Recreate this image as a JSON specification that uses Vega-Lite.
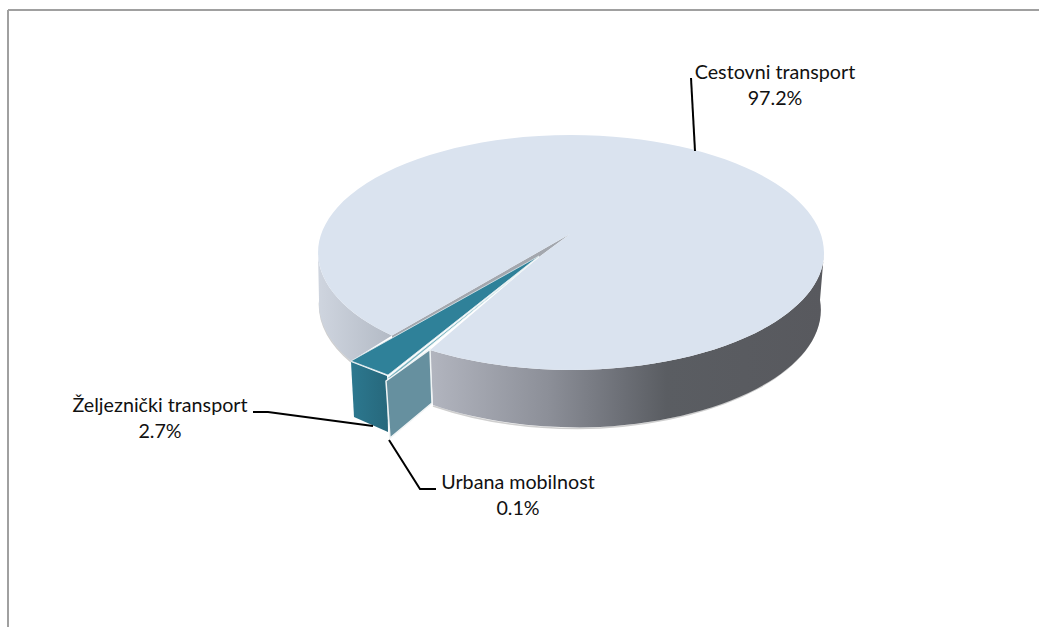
{
  "$schema": "https://vega.github.io/schema/vega-lite/v6.json",
  "width": 1031,
  "height": 617,
  "padding": {"left": 8, "top": 10, "right": 0, "bottom": 0},
  "autosize": "none",
  "background": "white",
  "config": {"view": {"stroke": null}},
  "datasets": {
    "udjeli": [
      {"sektor": "Cestovni transport", "udio": 97.2},
      {"sektor": "Željeznički transport", "udio": 2.7},
      {"sektor": "Urbana mobilnost", "udio": 0.1}
    ]
  },
  "data": {"name": "udjeli"},
  "transform": [
    {"calculate": "datum.sektor + '\\n' + format(datum.udio, '.1f') + '%'", "as": "oznaka"}
  ],
  "resolve": {"scale": {"shape": "independent", "fill": "independent", "stroke": "independent"}},
  "layer": [
    {"mark": {"type": "rule", "color": "#a0a0a0", "strokeWidth": 2}, "encoding": {"y": {"value": 0}}},
    {"mark": {"type": "rule", "color": "#a0a0a0", "strokeWidth": 2}, "encoding": {"x": {"value": 0}}},
    {
      "transform": [{"filter": "datum.sektor == 'Cestovni transport'"}],
      "mark": {"type": "point", "size": 4, "opacity": 1, "filled": false, "fill": null, "stroke": "#cfcfcf", "strokeWidth": 1.5,
        "shape": "M296 -10A250 118 0 0 1 76.5 109.5A250 118 0 0 1 -90.5 87.5M-204 -16A250 118 0 0 0 -172.5 43.5"}
    },
    {
      "transform": [{"filter": "datum.sektor == 'Cestovni transport'"}],
      "mark": {"type": "point", "size": 4, "opacity": 1, "filled": true,
        "shape": "M-205.5 -66A253 117.5 0 0 0 -131.5 17L-172.5 42.5A250 118 0 0 1 -204.5 -18.5Z",
        "fill": {"gradient": "linear", "x1": 0, "y1": 0, "x2": 1, "y2": 0, "stops": [
          {"offset": 0, "color": "#cfd5df"}, {"offset": 1, "color": "#b3bac5"}]}}
    },
    {
      "transform": [{"filter": "datum.sektor == 'Cestovni transport'"}],
      "mark": {"type": "point", "size": 4, "opacity": 1, "filled": true,
        "shape": "M-93.5 31.6A253 117.5 0 0 0 47.5 51.5A253 117.5 0 0 0 300.5 -66L296.5 -18.5A250 118 0 0 1 76.5 108.5A250 118 0 0 1 -90.5 86.5Z",
        "fill": {"gradient": "linear", "x1": 0, "y1": 0, "x2": 1, "y2": 0, "stops": [
          {"offset": 0, "color": "#b2b5bf"}, {"offset": 0.3, "color": "#8c8f98"}, {"offset": 0.5, "color": "#6a6d74"},
          {"offset": 0.6, "color": "#5a5d62"}, {"offset": 1, "color": "#58595e"}]}}
    },
    {
      "transform": [{"filter": "datum.sektor == 'Cestovni transport'"}],
      "mark": {"type": "point", "size": 4, "opacity": 1, "filled": true, "fill": "#a3a7ae",
        "shape": "M-131.5 17L46.5 -84.5L15.5 -61.5L-131.5 19.5Z"}
    },
    {
      "mark": {"type": "point", "size": 4, "opacity": 1, "filled": true},
      "encoding": {
        "shape": {"field": "sektor", "type": "nominal", "legend": null, "scale": {
          "domain": ["Cestovni transport", "Željeznički transport", "Urbana mobilnost"],
          "range": [
            "M-131.5 17A253 117.5 0 0 1 47.5 -183.5A253 117.5 0 0 1 300.5 -66A253 117.5 0 0 1 47.5 51.5A253 117.5 0 0 1 -93.5 31.6L15.5 -61.5L46.5 -84.5Z",
            "M-172.5 42.5L15.5 -62.5L-135.5 56.5Z",
            "M-137.5 60.5L15.5 -61.5L-132.5 59.5Z"
          ]}},
        "fill": {"field": "sektor", "type": "nominal", "legend": null, "scale": {
          "domain": ["Cestovni transport", "Željeznički transport", "Urbana mobilnost"],
          "range": ["#dae3ef", "#2f8199", "#7ab3c0"]}},
        "stroke": {"field": "sektor", "type": "nominal", "legend": null, "scale": {
          "domain": ["Cestovni transport", "Željeznički transport", "Urbana mobilnost"],
          "range": ["rgba(0,0,0,0)", "#dfeaee", "#f2f7f8"]}},
        "strokeWidth": {"value": 0.8}
      }
    },
    {
      "transform": [{"filter": "datum.sektor == 'Željeznički transport'"}],
      "mark": {"type": "point", "size": 4, "opacity": 1, "filled": true,
        "shape": "M-172.5 43.5L-136.5 57.5L-135.5 113.5L-169.5 98.5Z",
        "fill": {"gradient": "linear", "x1": 0, "y1": 0, "x2": 1, "y2": 0, "stops": [
          {"offset": 0, "color": "#2c788f"}, {"offset": 1, "color": "#27687c"}]}}
    },
    {
      "transform": [{"filter": "datum.sektor == 'Urbana mobilnost'"}],
      "mark": {"type": "point", "size": 4, "opacity": 1, "filled": true, "fill": "#66909f", "stroke": "#f0f4f5", "strokeWidth": 1.5,
        "shape": "M-137.5 62.5L-93.5 31L-91.5 84.5L-133.5 119.5Z"}
    },
    {
      "mark": {"type": "point", "size": 4, "opacity": 1, "filled": false, "fill": null, "stroke": "black", "strokeWidth": 2},
      "encoding": {
        "shape": {"field": "sektor", "type": "nominal", "legend": null, "scale": {
          "domain": ["Cestovni transport", "Željeznički transport", "Urbana mobilnost"],
          "range": [
            "M167.5 -240.5L171.5 -167.5",
            "M-270.5 93.5L-255.5 93.5L-150.5 107.5",
            "M-134.5 121.5L-103.5 170.5L-87.5 170.5"
          ]}}
      }
    },
    {
      "transform": [{"filter": "datum.sektor == 'Cestovni transport'"}],
      "mark": {"type": "text", "font": "Lato", "fontSize": 19.7, "lineBreak": "\n", "lineHeight": 26, "align": "center", "baseline": "alphabetic", "color": "#111111", "dx": 251.5, "dy": -239.5},
      "encoding": {"text": {"field": "oznaka", "type": "nominal"}}
    },
    {
      "transform": [{"filter": "datum.sektor == 'Željeznički transport'"}],
      "mark": {"type": "text", "font": "Lato", "fontSize": 19.7, "lineBreak": "\n", "lineHeight": 26, "align": "center", "baseline": "alphabetic", "color": "#111111", "dx": -363.5, "dy": 93.5},
      "encoding": {"text": {"field": "oznaka", "type": "nominal"}}
    },
    {
      "transform": [{"filter": "datum.sektor == 'Urbana mobilnost'"}],
      "mark": {"type": "text", "font": "Lato", "fontSize": 19.7, "lineBreak": "\n", "lineHeight": 26, "align": "center", "baseline": "alphabetic", "color": "#111111", "dx": -5.5, "dy": 170.5},
      "encoding": {"text": {"field": "oznaka", "type": "nominal"}}
    }
  ]
}
